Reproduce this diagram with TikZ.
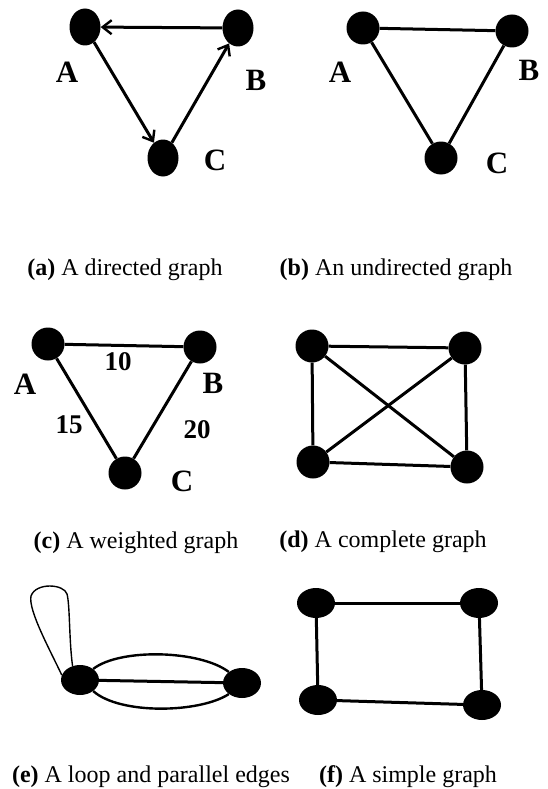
\documentclass[tikz,border=0pt]{standalone}
\usepackage{fontspec}
\setmainfont{Liberation Serif}
\usetikzlibrary{arrows.meta,shapes.geometric}
\begin{document}
\begin{tikzpicture}[x=1pt,y=-1pt,
  dot/.style={ellipse,fill=black,draw=none,inner sep=0pt,minimum width=33pt,minimum height=33pt},
  dota/.style={dot,minimum width=31pt,minimum height=37pt},
  dotw/.style={dot,minimum width=38pt,minimum height=30pt},
  edge/.style={line width=3pt,draw=black},
  arr/.style={edge,-{Straight Barb[length=9pt,width=14pt,line width=2.4pt]}},
  lbl/.style={font=\fontsize{31}{34}\selectfont\bfseries,inner sep=0pt},
  wt/.style={font=\fontsize{27}{30}\selectfont\bfseries,inner sep=0pt},
  captxt/.style={font=\fontsize{24}{28}\selectfont,inner sep=0pt}
]
\useasboundingbox[fill=white] (0,0) rectangle (547,789);

% (a) directed graph
\node[dota] (aA) at (85,27) {};
\node[dota] (aB) at (238,28) {};
\node[dota] (aC) at (163,158) {};
\draw[arr] (aB) -- (aA);
\draw[arr] (aA) -- (aC);
\draw[arr] (aC) -- (aB);
\node[lbl] (laA) at (67,72) {A};
\node[lbl] (laB) at (256,80) {B};
\node[lbl] (laC) at (215,160) {C};
\node[captxt] (capa) at (125,270) {\textbf{(a)} A directed graph};

% (b) undirected graph
\node[dot] (bA) at (363,28) {};
\node[dot] (bB) at (512,31) {};
\node[dot] (bC) at (441,158) {};
\draw[edge] (bA) -- (bB);
\draw[edge] (bA) -- (bC);
\draw[edge] (bB) -- (bC);
\node[lbl] (lbA) at (340,72) {A};
\node[lbl] (lbB) at (529,70) {B};
\node[lbl] (lbC) at (497,163) {C};
\node[captxt] (capb) at (396,270) {\textbf{(b)} An undirected graph};

% (c) weighted graph
\node[dot] (cA) at (48,344) {};
\node[dot] (cB) at (200,347) {};
\node[dot] (cC) at (125,473) {};
\draw[edge] (cA) -- (cB);
\draw[edge] (cA) -- (cC);
\draw[edge] (cB) -- (cC);
\node[lbl] (lcA) at (25,384) {A};
\node[lbl] (lcB) at (213,383) {B};
\node[lbl] (lcC) at (182,481) {C};
\node[wt] (w10) at (118,362) {10};
\node[wt] (w15) at (69,425) {15};
\node[wt] (w20) at (197,430) {20};
\node[captxt] (capc) at (136,543) {\textbf{(c)} A weighted graph};

% (d) complete graph
\node[dot] (d1) at (312,346) {};
\node[dot] (d2) at (465,348) {};
\node[dot] (d3) at (313,462) {};
\node[dot] (d4) at (467,467) {};
\draw[edge] (d1) -- (d2);
\draw[edge] (d1) -- (d3);
\draw[edge] (d2) -- (d4);
\draw[edge] (d3) -- (d4);
\draw[edge] (d1) -- (d4);
\draw[edge] (d2) -- (d3);
\node[captxt] (capd) at (383,542) {\textbf{(d)} A complete graph};

% (e) loop and parallel edges
\node[dotw] (eL) at (80,680) {};
\node[dotw] (eR) at (242,683) {};
\draw[edge] (eL) -- (eR);
\draw[edge,line width=2.4pt] (eL.40) .. controls (120,648) and (200,650) .. (eR.140);
\draw[edge,line width=2.4pt] (eL.-40) .. controls (120,715) and (200,713) .. (eR.-140);
\draw[line width=1.4pt] (eL.118) .. controls (69,640) and (70,605) .. (67,594)
  .. controls (64,584) and (36,582) .. (31,596)
  .. controls (28,610) and (50,650) .. (eL.165);
\node[captxt] (cape) at (151,777) {\textbf{(e)} A loop and parallel edges};

% (f) simple graph
\node[dotw] (f1) at (316,603) {};
\node[dotw] (f2) at (479,603) {};
\node[dotw] (f3) at (318,700) {};
\node[dotw] (f4) at (482,705) {};
\draw[edge] (f1) -- (f2);
\draw[edge] (f1) -- (f3);
\draw[edge] (f2) -- (f4);
\draw[edge] (f3) -- (f4);
\node[captxt] (capf) at (408,777) {\textbf{(f)} A simple graph};
\end{tikzpicture}
\end{document}
